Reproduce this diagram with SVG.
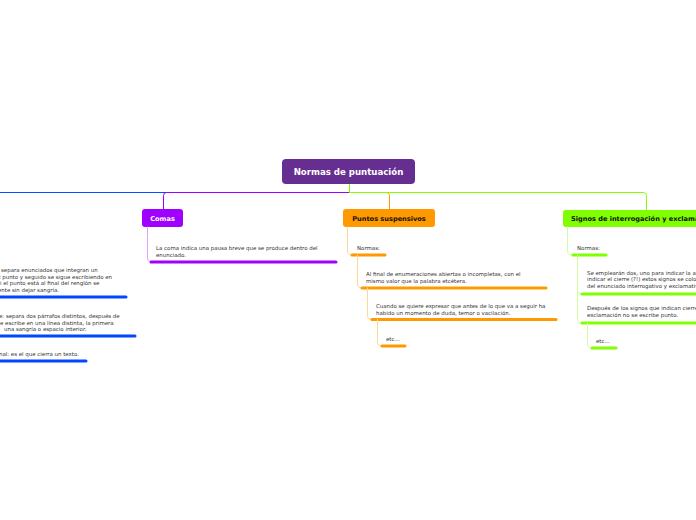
<svg xmlns="http://www.w3.org/2000/svg" width="696" height="520" viewBox="0 0 696 520">
<style>
.t{font-family:"DejaVu Sans",Verdana,sans-serif;font-size:5.45px;fill:#333}
.n{font-family:"DejaVu Sans",Verdana,sans-serif;font-weight:bold;font-size:6.6px}
.c{fill:none;stroke-width:1;stroke-linecap:round}
.u{fill:none;stroke-width:3;stroke-linecap:round}
</style>
<rect width="696" height="520" fill="#fff"/>
<g id="connectors">
<path class="c" d="M349.5 192.5H0" stroke="#0050ff"/>
<path class="c" d="M349.5 192.5H166.5Q163.5 192.5 163.5 195.5V209" stroke="#a000ff"/>
<path class="c" d="M349.5 192.5H386.5Q389.5 192.5 389.5 195.5V209" stroke="#ff9900"/>
<path class="c" d="M349.5 183V192.5H643.5Q646.5 192.5 646.5 195.5V210" stroke="#80ff00"/>
</g>
<g id="center">
<rect x="282" y="159" width="133" height="25" rx="4" fill="#662e91"/>
<text class="n" x="348.5" y="174.5" text-anchor="middle" fill="#fff" style="font-size:8.6px">Normas de puntuación</text>
</g>
<g id="punto">
<text class="t" x="1" y="272">separa enunciados que integran un</text>
<text class="t" x="-1" y="278.7">l punto y seguido se sigue escribiendo en</text>
<text class="t" x="0" y="285.3">i el punto está al final del renglón se</text>
<text class="t" x="-2" y="292">ente sin dejar sangría.</text>
<path class="u" d="M-5 297H126" stroke="#0047ff"/>
<text class="t" x="-1" y="318">e: separa dos párrafos distintos, después de</text>
<text class="t" x="0" y="324.7">e escribe en una línea distinta, la primera</text>
<text class="t" x="4" y="331.3">una sangría o espacio interior.</text>
<path class="u" d="M-5 336H135" stroke="#0047ff"/>
<text class="t" x="-1" y="356">nal: es el que cierra un texto.</text>
<path class="u" d="M-5 361H86" stroke="#0047ff"/>
</g>
<g id="comas">
<rect x="142" y="209" width="41" height="18" rx="3" fill="#a000ff"/>
<text class="n" x="162.5" y="220.5" text-anchor="middle" fill="#fff">Comas</text>
<path class="c" d="M147.5 227V258Q147.5 262 151.5 262" stroke="#d9a6ff"/>
<text class="t" x="156" y="250">La coma indica una pausa breve que se produce dentro del</text>
<text class="t" x="156" y="256.5">enunciado.</text>
<path class="u" d="M151 262H336" stroke="#a000ff"/>
</g>
<g id="suspensivos">
<rect x="343" y="209" width="92" height="18" rx="3" fill="#ff9900"/>
<text class="n" x="389" y="220.5" text-anchor="middle" fill="#111">Puntos suspensivos</text>
<path class="c" d="M347.5 227V251Q347.5 255 351.5 255" stroke="#ffd699"/>
<text class="t" x="357" y="250">Normas:</text>
<path class="u" d="M352 255H385" stroke="#ff9900"/>
<path class="c" d="M357.5 255V284Q357.5 288 361.5 288" stroke="#ffd699"/>
<text class="t" x="366" y="275.5">Al final de enumeraciones abiertas o incompletas, con el</text>
<text class="t" x="366" y="282.5">mismo valor que la palabra etcétera.</text>
<path class="u" d="M362 288H546" stroke="#ff9900"/>
<path class="c" d="M367.5 288V315.5Q367.5 319.5 371.5 319.5" stroke="#ffd699"/>
<text class="t" x="376" y="308">Cuando se quiere expresar que antes de lo que va a seguir ha</text>
<text class="t" x="376" y="315">habido un momento de duda, temor o vacilación.</text>
<path class="u" d="M372 319.5H556" stroke="#ff9900"/>
<path class="c" d="M377.5 319.5V342Q377.5 346 381.5 346" stroke="#ffd699"/>
<text class="t" x="386" y="341">etc...</text>
<path class="u" d="M382 346H405" stroke="#ff9900"/>
</g>
<g id="signos">
<rect x="563" y="210" width="140" height="17" rx="3" fill="#80ff00"/>
<text class="n" x="571" y="221" fill="#111">Signos de interrogación y exclamación</text>
<path class="c" d="M567.5 227V251Q567.5 255 571.5 255" stroke="#d2ff9e"/>
<text class="t" x="577" y="250">Normas:</text>
<path class="u" d="M573 255H606" stroke="#80ff00"/>
<path class="c" d="M577.5 255V319Q577.5 323 581.5 323M577.5 290Q577.5 294 581.5 294" stroke="#d2ff9e"/>
<text class="t" x="587" y="274.7">Se emplearán dos, uno para indicar la apertura y otro para</text>
<text class="t" x="587" y="281.3">indicar el cierre (?!) estos signos se colocan al principio y al final</text>
<text class="t" x="587" y="288">del enunciado interrogativo y exclamativo.</text>
<path class="u" d="M582 294H700" stroke="#80ff00"/>
<text class="t" x="587" y="310.3">Después de los signos que indican cierre de interrogación o</text>
<text class="t" x="587" y="317">exclamación no se escribe punto.</text>
<path class="u" d="M582 323H700" stroke="#80ff00"/>
<path class="c" d="M587.5 323V344Q587.5 348 591.5 348" stroke="#d2ff9e"/>
<text class="t" x="596" y="343">etc...</text>
<path class="u" d="M592 348H616" stroke="#80ff00"/>
</g>
</svg>
